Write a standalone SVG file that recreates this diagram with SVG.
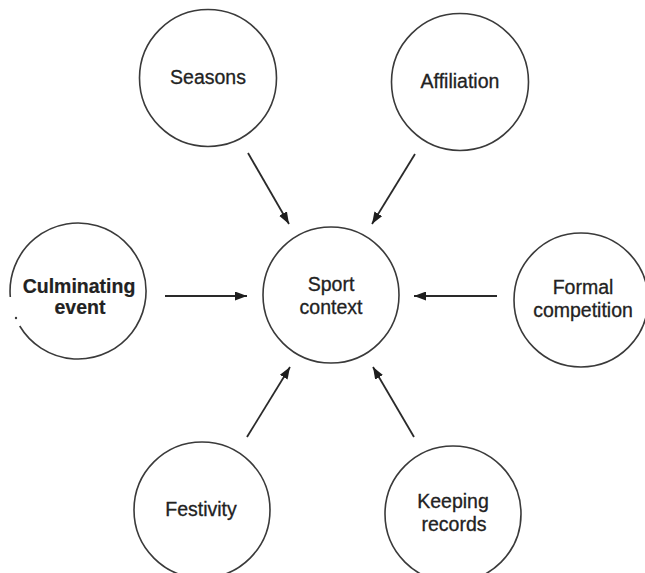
<svg xmlns="http://www.w3.org/2000/svg" width="645" height="573" viewBox="0 0 645 573">
<defs>
<style>
.node{fill:none;stroke:#3a3a3a;stroke-width:1.6}
.lbl{font-family:"Liberation Sans",Arial,sans-serif;font-size:19.5px;fill:#222;stroke:#222;stroke-width:0.3;text-anchor:middle}
.bold{font-weight:bold;stroke-width:0.2}
.conn line{stroke:#2a2a2a;stroke-width:1.8}
</style>
<marker id="arr" markerUnits="userSpaceOnUse" markerWidth="12" markerHeight="9" refX="12" refY="4.5" orient="auto">
<path d="M0,0 L12,4.5 L0,9 Z" fill="#1e1e1e"/>
</marker>
</defs>
<rect width="645" height="573" fill="#ffffff"/>
<g id="seasons">
<circle class="node" cx="208" cy="78" r="68.5"/>
<text class="lbl" x="208" y="84">Seasons</text>
</g>
<g id="affiliation">
<circle class="node" cx="460" cy="82" r="68.5"/>
<text class="lbl" x="460" y="88">Affiliation</text>
</g>
<g id="sport-context">
<circle class="node" cx="331" cy="295" r="68"/>
<text class="lbl" x="331" y="291">Sport</text>
<text class="lbl" x="331" y="314">context</text>
</g>
<g id="culminating-event">
<path class="node" d="M10.3,297 A68,68 0 1 1 19.7,326"/>
<circle cx="16" cy="318" r="1.2" fill="#3a3a3a"/>
<text class="lbl bold" x="79" y="293">Culminating</text>
<text class="lbl bold" x="80" y="314">event</text>
</g>
<g id="formal-competition">
<circle class="node" cx="581" cy="300" r="67"/>
<text class="lbl" x="583" y="294">Formal</text>
<text class="lbl" x="583" y="317">competition</text>
</g>
<g id="festivity">
<circle class="node" cx="202" cy="510" r="68"/>
<text class="lbl" x="201" y="516">Festivity</text>
</g>
<g id="keeping-records">
<circle class="node" cx="453" cy="514" r="68"/>
<text class="lbl" x="453" y="508">Keeping</text>
<text class="lbl" x="454" y="531">records</text>
</g>
<g id="connectors" class="conn">
<line x1="248" y1="153" x2="289" y2="224" marker-end="url(#arr)"/>
<line x1="415" y1="154" x2="372" y2="224" marker-end="url(#arr)"/>
<line x1="165" y1="296" x2="247" y2="296" marker-end="url(#arr)"/>
<line x1="497" y1="296" x2="414" y2="296" marker-end="url(#arr)"/>
<line x1="247" y1="437" x2="290" y2="367" marker-end="url(#arr)"/>
<line x1="414" y1="437" x2="373" y2="367" marker-end="url(#arr)"/>
</g>
</svg>
